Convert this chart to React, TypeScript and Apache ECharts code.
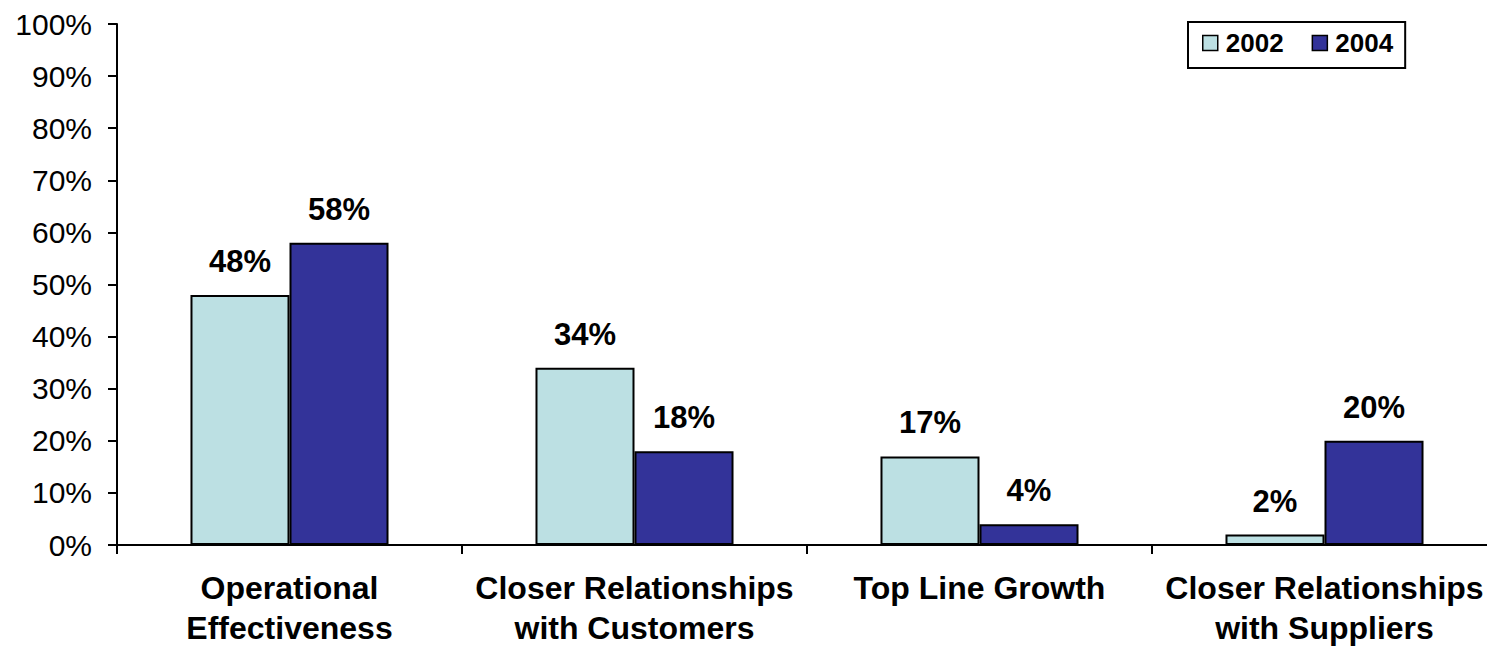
import React, { useEffect, useRef } from "react";
import * as echarts from "echarts";

const categories = [
  "Operational\nEffectiveness",
  "Closer Relationships\nwith Customers",
  "Top Line Growth",
  "Closer Relationships\nwith Suppliers",
];
const values2002 = [48, 34, 17, 2];
const values2004 = [58, 18, 4, 20];
const yTicks = [0, 10, 20, 30, 40, 50, 60, 70, 80, 90, 100];

const FONT = "'Liberation Sans', Arial, sans-serif";
const LIGHT = "#BCE0E3";
const DARK = "#333399";

export default function App() {
  const ref = useRef<HTMLDivElement>(null);

  useEffect(() => {
    if (!ref.current) return;
    const chart = echarts.init(ref.current, undefined, { renderer: "svg" });

    const label = {
      show: true,
      position: "top" as const,
      distance: 18,
      formatter: "{c}%",
      fontFamily: FONT,
      fontWeight: "bold" as const,
      fontSize: 31,
      color: "#000",
    };

    chart.setOption({
      animation: false,
      backgroundColor: "#fff",
      textStyle: { fontFamily: FONT },
      legend: {
        left: 1188,
        top: 22,
        orient: "horizontal",
        itemWidth: 15,
        itemHeight: 15,
        itemGap: 28,
        padding: [8, 12, 12, 14],
        borderColor: "#000",
        borderWidth: 2,
        icon: "rect",
        textStyle: {
          fontFamily: FONT,
          fontWeight: "bold",
          fontSize: 26,
          color: "#000",
          padding: [0, 0, 0, 3],
        },
        data: [
          { name: "2002", itemStyle: { color: LIGHT, borderColor: "#000", borderWidth: 1.5 } },
          { name: "2004", itemStyle: { color: DARK, borderColor: "#000", borderWidth: 1.5 } },
        ],
      },
      // the plot runs a little past the visible right edge
      grid: { left: 117, right: 0, top: 24, bottom: 99, containLabel: false },
      xAxis: {
        type: "category",
        data: categories,
        axisLine: { lineStyle: { color: "#000", width: 2 } },
        axisTick: { show: true, length: 9, lineStyle: { color: "#000", width: 2 } },
        axisLabel: {
          interval: 0,
          margin: 23,
          fontFamily: FONT,
          fontWeight: "bold",
          fontSize: 32,
          lineHeight: 40,
          color: "#000",
        },
      },
      yAxis: {
        type: "value",
        min: 0,
        max: 100,
        interval: 10,
        splitLine: { show: false },
        axisLine: { show: true, lineStyle: { color: "#000", width: 2 } },
        axisTick: { show: true, length: 9, lineStyle: { color: "#000", width: 2 } },
        axisLabel: {
          margin: 25,
          fontFamily: FONT,
          fontSize: 30,
          color: "#000",
          formatter: (v: number) => (yTicks.includes(v) ? `${v}%` : ""),
        },
      },
      series: [
        {
          name: "2002",
          type: "bar",
          data: values2002,
          barGap: "0%",
          barCategoryGap: "42.6%",
          itemStyle: { color: LIGHT, borderColor: "#000", borderWidth: 2 },
          label,
        },
        {
          name: "2004",
          type: "bar",
          data: values2004,
          barGap: "0%",
          barCategoryGap: "42.6%",
          itemStyle: { color: DARK, borderColor: "#000", borderWidth: 2 },
          label,
        },
      ],
    });

    return () => chart.dispose();
  }, []);

  return (
    <div
      style={{
        position: "fixed",
        left: 0,
        top: 0,
        width: 1487,
        height: 648,
        overflow: "hidden",
        background: "#fff",
      }}
    >
      <div ref={ref} style={{ width: 1497, height: 648 }} />
    </div>
  );
}
